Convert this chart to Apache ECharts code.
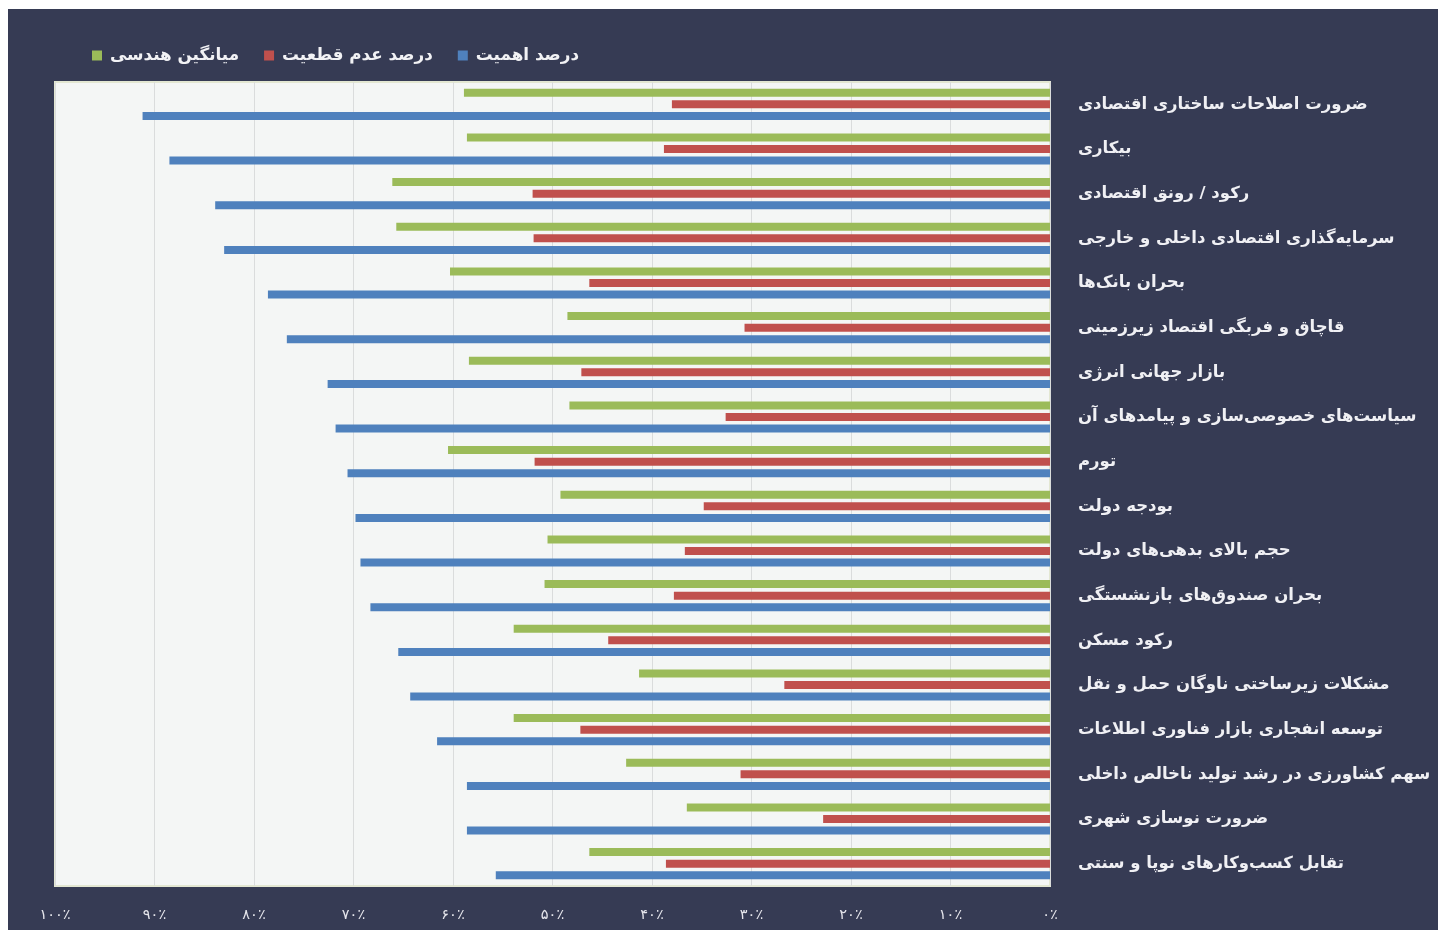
<!DOCTYPE html>
<html>
<head>
<meta charset="utf-8">
<script src="https://cdn.jsdelivr.net/npm/echarts@6/dist/echarts.min.js"></script>
<style>
  html, body { margin: 0; padding: 0; background: #ffffff; width: 1445px; height: 935px; overflow: hidden; }
  #chart { position: absolute; left: 8px; top: 9px; width: 1430px; height: 921px; }
</style>
</head>
<body>
<div id="chart"></div>
<script>
const categories = [
  'ضرورت اصلاحات ساختاری اقتصادی',
  'بیکاری',
  'رکود / رونق اقتصادی',
  'سرمایه‌گذاری اقتصادی داخلی و خارجی',
  'بحران بانک‌ها',
  'قاچاق و فربگی اقتصاد زیرزمینی',
  'بازار جهانی انرژی',
  'سیاست‌های خصوصی‌سازی و پیامدهای آن',
  'تورم',
  'بودجه دولت',
  'حجم بالای بدهی‌های دولت',
  'بحران صندوق‌های بازنشستگی',
  'رکود مسکن',
  'مشکلات زیرساختی ناوگان حمل و نقل',
  'توسعه انفجاری بازار فناوری اطلاعات',
  'سهم کشاورزی در رشد تولید ناخالص داخلی',
  'ضرورت نوسازی شهری',
  'تقابل کسب‌وکارهای نوپا و سنتی'
];
const seriesNames = ['میانگین هندسی', 'درصد عدم قطعیت', 'درصد اهمیت'];
const geoMean = [58.9, 58.6, 66.1, 65.7, 60.3, 48.5, 58.4, 48.3, 60.5, 49.2, 50.5, 50.8, 53.9, 41.3, 53.9, 42.6, 36.5, 46.3];
const uncertainty = [38.0, 38.8, 52.0, 51.9, 46.3, 30.7, 47.1, 32.6, 51.8, 34.8, 36.7, 37.8, 44.4, 26.7, 47.2, 31.1, 22.8, 38.6];
const importance = [91.2, 88.5, 83.9, 83.0, 78.6, 76.7, 72.6, 71.8, 70.6, 69.8, 69.3, 68.3, 65.5, 64.3, 61.6, 58.6, 58.6, 55.7];
const tickLabels = ['۰٪', '۱۰٪', '۲۰٪', '۳۰٪', '۴۰٪', '۵۰٪', '۶۰٪', '۷۰٪', '۸۰٪', '۹۰٪', '۱۰۰٪'];
const colors = ['#9bbb59', '#c0504d', '#4f81bd'];

const chart = echarts.init(document.getElementById('chart'));
const font = 'DejaVu Sans';
const values = [geoMean, uncertainty, importance];
chart.setOption({
  backgroundColor: '#363b54',
  animation: false,
  textStyle: { fontFamily: font },
  legend: {
    data: seriesNames,
    left: 79,
    top: 33,
    icon: 'rect',
    itemWidth: 10,
    itemHeight: 10,
    itemGap: 25,
    textStyle: { color: '#f2f2f5', fontSize: 16.8, fontWeight: 'bold', fontFamily: font, padding: [0, 0, 0, 3] }
  },
  grid: {
    left: 47, right: 388, top: 73, bottom: 44,
    outerBoundsMode: 'none',
    containLabel: false,
    show: true,
    backgroundColor: '#f4f6f5',
    borderColor: '#e3e7d2',
    borderWidth: 2
  },
  xAxis: {
    type: 'value',
    inverse: true,
    min: 0, max: 100, interval: 10,
    axisLine: { show: false },
    axisTick: { show: false },
    splitLine: { show: true, lineStyle: { color: '#dadcdc', width: 1 } },
    axisLabel: {
      color: '#e6e6ec', fontSize: 14.5, margin: 22, fontFamily: font,
      formatter: v => tickLabels[Math.round(v / 10)]
    }
  },
  yAxis: {
    type: 'category',
    data: categories,
    inverse: true,
    position: 'right',
    axisLine: { show: false },
    axisTick: { show: false },
    splitLine: { show: false },
    axisLabel: {
      color: '#f0f0f4', fontSize: 16.5, fontWeight: 'bold', margin: 28, align: 'left', fontFamily: font
    }
  },
  series: seriesNames.map((name, i) => ({
    name: name,
    type: 'bar',
    data: values[i],
    barWidth: 8,
    barGap: '45%',
    itemStyle: { color: colors[i] }
  }))
});
</script>
</body>
</html>
